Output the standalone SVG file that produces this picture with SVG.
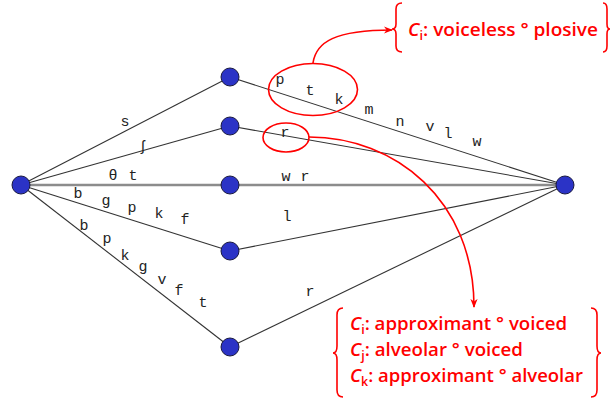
<svg xmlns="http://www.w3.org/2000/svg" width="610" height="399" viewBox="0 0 610 399">
<defs>
<marker id="ah" viewBox="0 0 10 10" refX="9" refY="5" markerWidth="9" markerHeight="9" markerUnits="userSpaceOnUse" orient="auto">
<path d="M0,1 L10,5 L0,9 L3,5 Z" fill="#ff0000"/>
</marker>
<style>
.e{stroke:#333;stroke-width:1.1;fill:none}
.eg{stroke:#8c8c8c;stroke-width:2.6;fill:none}
.n{fill:#2b33c6;stroke:#1a1a40;stroke-width:1}
.l{font-family:"Liberation Mono","DejaVu Sans Mono",monospace;font-size:15px;fill:#222;text-anchor:middle}
.r{stroke:#ff0000;stroke-width:1.6;fill:none}
.rt{font-family:"Open Sans","DejaVu Sans",sans-serif;font-size:18px;font-weight:600;fill:#ff0000}
.sub{font-size:12px}
</style>
</defs>
<g id="connectors">
<line class="e" x1="21" y1="185" x2="230" y2="77"/>
<line class="e" x1="21" y1="185" x2="230" y2="126"/>
<line class="eg" x1="21" y1="185" x2="565" y2="185"/>
<line class="e" x1="21" y1="185" x2="230" y2="251"/>
<line class="e" x1="21" y1="185" x2="230" y2="347"/>
<line class="e" x1="230" y1="77" x2="565" y2="185"/>
<line class="e" x1="230" y1="126" x2="565" y2="185"/>
<line class="e" x1="230" y1="251" x2="565" y2="185"/>
<line class="e" x1="230" y1="347" x2="565" y2="185"/>
</g>
<g id="labels">
<text class="l" x="125" y="126">s</text>
<text class="l" x="143" y="151">ʃ</text>
<text class="l" x="113" y="180">θ</text>
<text class="l" x="133" y="180">t</text>
<text class="l" x="78" y="198">b</text>
<text class="l" x="106" y="205">g</text>
<text class="l" x="132" y="212">p</text>
<text class="l" x="159" y="218">k</text>
<text class="l" x="185" y="224">f</text>
<text class="l" x="84" y="230">b</text>
<text class="l" x="107" y="243">p</text>
<text class="l" x="125" y="260">k</text>
<text class="l" x="143" y="271">g</text>
<text class="l" x="162" y="284">v</text>
<text class="l" x="179" y="295">f</text>
<text class="l" x="203" y="307">t</text>
<text class="l" x="286" y="181">w</text>
<text class="l" x="305" y="181">r</text>
<text class="l" x="287" y="221">l</text>
<text class="l" x="310" y="296">r</text>
<text class="l" x="285" y="137">r</text>
<text class="l" x="280" y="84">p</text>
<text class="l" x="310" y="95">t</text>
<text class="l" x="339" y="104">k</text>
<text class="l" x="369" y="114">m</text>
<text class="l" x="400" y="126">n</text>
<text class="l" x="430" y="131">v</text>
<text class="l" x="448" y="138">l</text>
<text class="l" x="477" y="146">w</text>
</g>
<g id="n0"><circle class="n" cx="21" cy="185" r="9"/></g>
<g id="n1"><circle class="n" cx="230" cy="77" r="9"/></g>
<g id="n2"><circle class="n" cx="230" cy="126" r="9"/></g>
<g id="n3"><circle class="n" cx="230" cy="185" r="9"/></g>
<g id="n4"><circle class="n" cx="230" cy="251" r="9"/></g>
<g id="n5"><circle class="n" cx="230" cy="347" r="9"/></g>
<g id="n6"><circle class="n" cx="565" cy="185" r="9"/></g>
<g id="annotations">
<ellipse class="r" cx="313" cy="89.5" rx="44.5" ry="26"/>
<ellipse class="r" cx="286" cy="137.5" rx="23" ry="14.5"/>
<path class="r" d="M313,63 C316,42 335,30 392,30" marker-end="url(#ah)"/>
<path class="r" d="M309,137 C395,137 474,200 474,307" marker-end="url(#ah)"/>
<path class="r" d="M402,3 Q396,3 396,9 L396,24 Q396,29 392,29 Q396,29 396,34 L396,46 Q396,52 402,52"/>
<path class="r" d="M603,3 Q607,3 607,9 L607,24 Q607,29 610,29 Q607,29 607,34 L607,46 Q607,52 603,52"/>
<text class="rt" x="408" y="36" textLength="190" lengthAdjust="spacingAndGlyphs"><tspan font-style="italic">C</tspan><tspan class="sub" dy="4">i</tspan><tspan dy="-4">: voiceless ° plosive</tspan></text>
<path class="r" d="M343,308 Q337,308 337,315 L337,346 Q337,353 333,353 Q337,353 337,360 L337,390 Q337,397 343,397"/>
<path class="r" d="M591,308 Q597,308 597,315 L597,346 Q597,353 601,353 Q597,353 597,360 L597,390 Q597,397 591,397"/>
<text class="rt" x="350" y="330" textLength="217" lengthAdjust="spacingAndGlyphs"><tspan font-style="italic">C</tspan><tspan class="sub" dy="4">i</tspan><tspan dy="-4">: approximant ° voiced</tspan></text>
<text class="rt" x="350" y="356" textLength="173" lengthAdjust="spacingAndGlyphs"><tspan font-style="italic">C</tspan><tspan class="sub" dy="4">j</tspan><tspan dy="-4">: alveolar ° voiced</tspan></text>
<text class="rt" x="350" y="382" textLength="233" lengthAdjust="spacingAndGlyphs"><tspan font-style="italic">C</tspan><tspan class="sub" dy="4">k</tspan><tspan dy="-4">: approximant ° alveolar</tspan></text>
</g>
</svg>
